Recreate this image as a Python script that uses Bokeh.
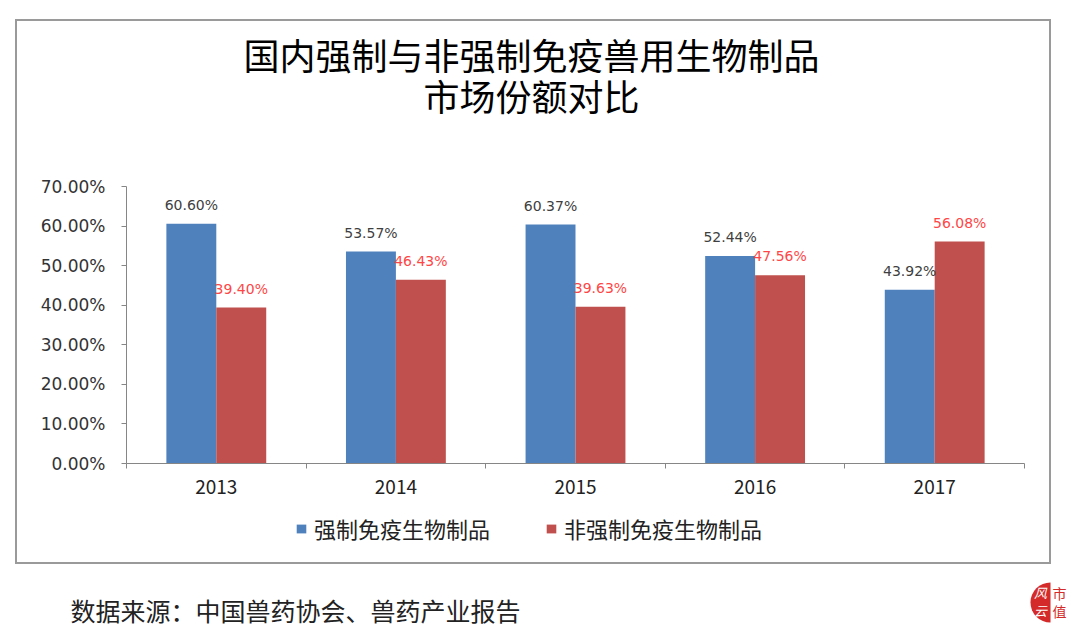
import math
from bokeh.plotting import figure
from bokeh.models import (ColumnDataSource, FixedTicker, NumeralTickFormatter, Label,
                          Legend, LegendItem, Range1d)
from bokeh.layouts import column
from bokeh.embed import file_html
from bokeh.resources import INLINE
from bokeh.core.properties import value

years = ["2013", "2014", "2015", "2016", "2017"]
mandatory = [0.6060, 0.5357, 0.6037, 0.5244, 0.4392]
non_mandatory = [0.3940, 0.4643, 0.3963, 0.4756, 0.5608]
series_names = ["强制免疫生物制品", "非强制免疫生物制品"]
title_lines = ["国内强制与非强制免疫兽用生物制品", "市场份额对比"]
source_note = "数据来源：中国兽药协会、兽药产业报告"
y_ticks = [0.0, 0.1, 0.2, 0.3, 0.4, 0.5, 0.6, 0.7]

BLUE = "#4F81BD"
RED = "#C0504D"
CJK = "Noto Sans CJK SC"

# ---- page geometry (pixels) ----
BOX_ML, BOX_MT, BORDER = 15, 19, 2
IN_L = BOX_ML + BORDER          # 17
IN_T = BOX_MT + BORDER          # 21
BOX_W = 1032
TITLE_H, CHART_H, LEG_H = 139, 345, 57
FL, FR, FT, FB = 126, 1024, 186, 463   # plot frame edges on the page
CHART_T = IN_T + TITLE_H
LEG_T = CHART_T + CHART_H
SRC_T = LEG_T + LEG_H + BORDER
SRC_H = 633 - SRC_T
MB_L = FL - IN_L
MB_R = IN_L + BOX_W - FR


def panel(h, top):
    """Helper figure whose frame lines up with the chart frame; x in page px."""
    f = figure(width=BOX_W, height=h, output_backend="svg", toolbar_location=None,
               x_range=Range1d(FL, FR), y_range=Range1d(top + h, top),
               min_border_left=MB_L, min_border_right=MB_R,
               min_border_top=0, min_border_bottom=0)
    f.axis.visible = False
    f.grid.visible = False
    f.outline_line_color = None
    return f


# ---- title panel ----
TITLE_FS = 36
tf = panel(TITLE_H, IN_T)
for txt, cy in zip(title_lines, [53, 94]):
    tf.add_layout(Label(x=531 - len(txt) * TITLE_FS / 2, y=cy, text=txt,
                        text_align="left", text_baseline="middle", text_font=CJK,
                        text_font_size=f"{TITLE_FS}px", text_color="#000000"))

# ---- chart panel ----
centers = [i + 0.5 for i in range(len(years))]
bw = 0.278
blue_x = [c - bw / 2 for c in centers]
red_x = [c + bw / 2 for c in centers]

src_b = ColumnDataSource(dict(x=blue_x, top=mandatory,
                              lbl=[f"{v:.2%}" for v in mandatory]))
src_r = ColumnDataSource(dict(x=red_x, top=non_mandatory,
                              lbl=[f"{v:.2%}" for v in non_mandatory]))

p = figure(width=BOX_W, height=CHART_H, output_backend="svg", toolbar_location=None,
           x_range=Range1d(0, len(years)), y_range=Range1d(0, 0.7),
           min_border_left=MB_L, min_border_right=MB_R,
           min_border_top=FT - CHART_T, min_border_bottom=CHART_T + CHART_H - FB)
p.outline_line_color = None
p.xgrid.visible = False
p.ygrid.visible = False

p.vbar(x="x", top="top", width=bw, source=src_b, fill_color=BLUE, line_color=None)
p.vbar(x="x", top="top", width=bw, source=src_r, fill_color=RED, line_color=None)

p.text(x="x", y="top", text="lbl", source=src_b, text_align="center",
       text_baseline="middle", y_offset=-19, text_color="#404040",
       text_font=value("DejaVu Sans"), text_font_size="14px")
p.text(x="x", y="top", text="lbl", source=src_r, text_align="center",
       text_baseline="middle", y_offset=-19, text_color="#FF4646",
       text_font=value("DejaVu Sans"), text_font_size="14px")

xa = p.xaxis[0]
xa.ticker = FixedTicker(ticks=centers, minor_ticks=list(range(len(years) + 1)))
xa.major_label_overrides = {c: y for c, y in zip(centers, years)}
xa.major_tick_out = 0
xa.major_tick_in = 0
xa.minor_tick_out = 5
xa.minor_tick_in = 0
xa.minor_tick_line_color = "#868686"
xa.axis_line_color = "#868686"
xa.major_label_text_font = CJK
xa.major_label_text_font_size = "19px"
xa.major_label_text_color = "#222222"
xa.major_label_standoff = 11

ya = p.yaxis[0]
ya.ticker = FixedTicker(ticks=y_ticks)
ya.formatter = NumeralTickFormatter(format="0.00%")
ya.major_tick_out = 5
ya.major_tick_in = 0
ya.minor_tick_line_color = None
ya.axis_line_color = "#868686"
ya.major_tick_line_color = "#868686"
ya.major_label_text_font = "DejaVu Sans"
ya.major_label_text_font_size = "17px"
ya.major_label_text_color = "#333333"
ya.major_label_standoff = 16

# ---- legend panel (swatches are off-view stand-ins for the two series) ----
lf = panel(LEG_H, LEG_T)
sw_b = lf.rect(x=[-500], y=[-500], width=1, height=1, fill_color=BLUE, line_color=None)
sw_r = lf.rect(x=[-500], y=[-500], width=1, height=1, fill_color=RED, line_color=None)
legend = Legend(items=[LegendItem(label=series_names[0], renderers=[sw_b]),
                       LegendItem(label=series_names[1], renderers=[sw_r])],
                orientation="horizontal", location=(295 - FL, 18),
                border_line_color=None, background_fill_alpha=0,
                label_text_font=CJK, label_text_font_size="22px",
                label_text_color="#222222", glyph_width=12, glyph_height=11,
                spacing=55, padding=0, margin=0, label_standoff=7)
lf.add_layout(legend, "center")

box = column(tf, p, lf, margin=(BOX_MT, 0, 0, BOX_ML), spacing=0,
             styles={"border": f"{BORDER}px solid #9A9A9A"})

# ---- source note panel with corner logo ----
sf = figure(width=1080, height=SRC_H, output_backend="svg", toolbar_location=None,
            x_range=Range1d(0, 1080), y_range=Range1d(633, SRC_T), min_border=0)
sf.axis.visible = False
sf.grid.visible = False
sf.outline_line_color = None
sf.add_layout(Label(x=70, y=609, text=source_note, text_align="left",
                    text_baseline="middle", text_font=CJK, text_font_size="25px",
                    text_color="#222222"))
sf.wedge(x=[1050], y=[602], radius=20, start_angle=math.pi / 2,
         end_angle=3 * math.pi / 2, fill_color="#D42A2A", line_color=None)
for ch, cy in zip(["风", "云"], [592, 610]):
    sf.add_layout(Label(x=1040, y=cy, text=ch, text_align="center",
                        text_baseline="middle", text_font=CJK, text_font_size="13px",
                        text_font_style="italic", text_color="white"))
for ch, cy in zip(["市", "值"], [592, 610]):
    sf.add_layout(Label(x=1059, y=cy, text=ch, text_align="center",
                        text_baseline="middle", text_font=CJK, text_font_size="14px",
                        text_color="#D42A2A"))

root = column(box, sf, margin=0, spacing=0)
open("out.html", "w").write(file_html(root, INLINE))
